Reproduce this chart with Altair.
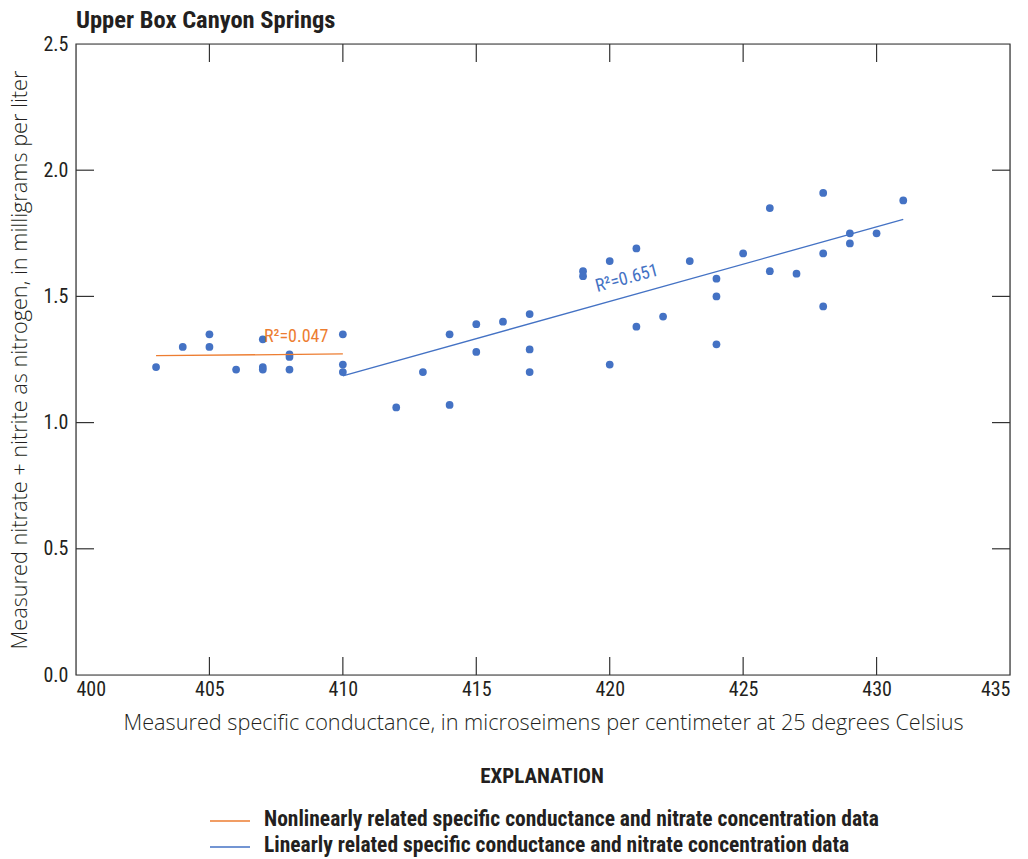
import altair as alt
import pandas as pd

# Measured specific conductance (uS/cm at 25 C) and nitrate + nitrite (mg/L as N)
cond = [403, 404, 405, 405, 406, 407, 407, 407, 408, 408, 408,
        410, 410, 410, 412, 413, 414, 414, 415, 415, 416,
        417, 417, 417, 419, 419, 420, 420, 421, 421, 422, 423,
        424, 424, 424, 425, 426, 426, 427, 428, 428, 428,
        429, 429, 430, 431]
nitrate = [1.22, 1.30, 1.35, 1.30, 1.21, 1.33, 1.22, 1.21, 1.27, 1.26, 1.21,
           1.35, 1.23, 1.20, 1.06, 1.20, 1.35, 1.07, 1.39, 1.28, 1.40,
           1.43, 1.29, 1.20, 1.60, 1.58, 1.64, 1.23, 1.69, 1.38, 1.42, 1.64,
           1.57, 1.50, 1.31, 1.67, 1.85, 1.60, 1.59, 1.91, 1.67, 1.46,
           1.75, 1.71, 1.75, 1.88]

# Trend line end points for the two groups
fit_group = ["Nonlinear", "Nonlinear", "Linear", "Linear"]
fit_x = [403, 410, 410, 431]
fit_y = [1.265, 1.272, 1.185, 1.805]

# R-squared annotations
r2_text = ["R\u00b2=0.047", "R\u00b2=0.651"]
r2_x = [408.25, 420.65]
r2_y = [1.34, 1.57]
r2_group = ["Nonlinear", "Linear"]

x_ticks = [405, 410, 415, 420, 425, 430]
y_ticks = [0.5, 1.0, 1.5, 2.0]
x_labels = [400, 405, 410, 415, 420, 425, 430, 435]
y_labels = [0, 0.5, 1.0, 1.5, 2.0, 2.5]

legend_labels = [
    "Nonlinearly related specific conductance and nitrate concentration data",
    "Linearly related specific conductance and nitrate concentration data",
]

W, H = 934, 631
TICK = 18
ORANGE = "#ED7D31"
BLUE = "#4472C4"
FONT = "Liberation Sans Narrow, Roboto Condensed, Roboto, sans-serif"
TITLE_FONT = "Open Sans, sans-serif"
INK = "#231f20"
FRAME = "#333333"

x_scale = alt.Scale(domain=[400, 435], nice=False, zero=False)
y_scale = alt.Scale(domain=[0, 2.5], nice=False)

x_axis = alt.Axis(values=x_labels, ticks=False, domain=False, grid=False,
                  labelFont=FONT, labelFontSize=20, labelColor=INK, labelPadding=4,
                  titleFont=TITLE_FONT, titleFontSize=21.7, titleFontWeight=300,
                  titleColor=INK, titlePadding=13, format="d")
y_axis = alt.Axis(values=y_labels, ticks=False, domain=False, grid=False,
                  labelFont=FONT, labelFontSize=20, labelColor=INK, labelPadding=8,
                  format=".1f", titleFont=TITLE_FONT, titleFontSize=21.7,
                  titleFontWeight=300, titleColor=INK, titlePadding=11)
X_TITLE = "Measured specific conductance, in microseimens per centimeter at 25 degrees Celsius"
Y_TITLE = "Measured nitrate + nitrite as nitrogen, in milligrams per liter"

x_enc = alt.X("x:Q", scale=x_scale, axis=x_axis, title=X_TITLE)
y_enc = alt.Y("y:Q", scale=y_scale, axis=y_axis, title=Y_TITLE)

pts = pd.DataFrame({"x": cond, "y": nitrate})
fits = pd.DataFrame({"x": fit_x, "y": fit_y, "g": fit_group})
labels = pd.DataFrame({"x": r2_x, "y": r2_y, "t": r2_text, "g": r2_group})

points = alt.Chart(pts).mark_circle(size=60, color=BLUE, opacity=1).encode(x=x_enc, y=y_enc)

color_scale = alt.Scale(domain=["Nonlinear", "Linear"], range=[ORANGE, BLUE])

fit_lines = alt.Chart(fits).mark_line(strokeWidth=1.3).encode(
    x=x_enc, y=y_enc,
    color=alt.Color("g:N", scale=color_scale, legend=None),
    detail="g:N",
)

r2_flat = alt.Chart(labels[labels.g == "Nonlinear"]).mark_text(
    font=FONT, fontSize=18, align="center", baseline="middle", color=ORANGE
).encode(x=x_enc, y=y_enc, text="t:N")

r2_slope = alt.Chart(labels[labels.g == "Linear"]).mark_text(
    font=FONT, fontSize=18, align="center", baseline="middle", color=BLUE, angle=345
).encode(x=x_enc, y=y_enc, text="t:N")

one = pd.DataFrame({"a": [0]})

# Frame around the plot area
frame = alt.Chart(one).mark_rect(
    fill=None, stroke=FRAME, strokeWidth=1.2
).encode(x=alt.value(0), x2=alt.value(W), y=alt.value(0), y2=alt.value(H))

# Inward-pointing tick marks on all four sides
xt = pd.DataFrame({"x": x_ticks})
yt = pd.DataFrame({"y": y_ticks})
tick_style = dict(color=FRAME, strokeWidth=1.2)
bottom_ticks = alt.Chart(xt).mark_rule(**tick_style).encode(
    x=x_enc, y=alt.value(H), y2=alt.value(H - TICK))
top_ticks = alt.Chart(xt).mark_rule(**tick_style).encode(
    x=x_enc, y=alt.value(0), y2=alt.value(TICK))
left_ticks = alt.Chart(yt).mark_rule(**tick_style).encode(
    y=y_enc, x=alt.value(0), x2=alt.value(TICK))
right_ticks = alt.Chart(yt).mark_rule(**tick_style).encode(
    y=y_enc, x=alt.value(W), x2=alt.value(W - TICK))

title = alt.Chart(one).mark_text(
    font=FONT, fontSize=24.5, fontWeight="bold", align="left", baseline="alphabetic",
    color=INK
).encode(x=alt.value(0), y=alt.value(-16), text=alt.value("Upper Box Canyon Springs"))

explanation = alt.Chart(one).mark_text(
    font=FONT, fontSize=21, fontWeight="bold", align="center", baseline="middle",
    color=INK
).encode(x=alt.value(466), y=alt.value(733), text=alt.value("EXPLANATION"))

leg_y = [776, 802]
legend_layers = []
for row, lab in enumerate(legend_labels):
    c = ORANGE if row == 0 else BLUE
    legend_layers.append(
        alt.Chart(one).mark_rule(color=c, strokeWidth=1.3).encode(
            x=alt.value(134), x2=alt.value(174), y=alt.value(leg_y[row] + 1))
    )
    legend_layers.append(
        alt.Chart(one).mark_text(
            font=FONT, fontSize=21.5, fontWeight="bold", align="left", baseline="middle",
            color=INK
        ).encode(x=alt.value(188), y=alt.value(leg_y[row]), text=alt.value(lab))
    )

chart = alt.layer(
    points, fit_lines, r2_flat, r2_slope, frame,
    bottom_ticks, top_ticks, left_ticks, right_ticks,
    title, explanation, *legend_layers
).properties(
    width=W, height=H,
    autosize=alt.AutoSizeParams(type="none"),
    padding={"left": 76, "top": 44, "right": 18, "bottom": 184},
).configure_view(stroke=None).configure(background="white")

chart.save("out.html", embed_options={"renderer": "svg", "actions": False})
